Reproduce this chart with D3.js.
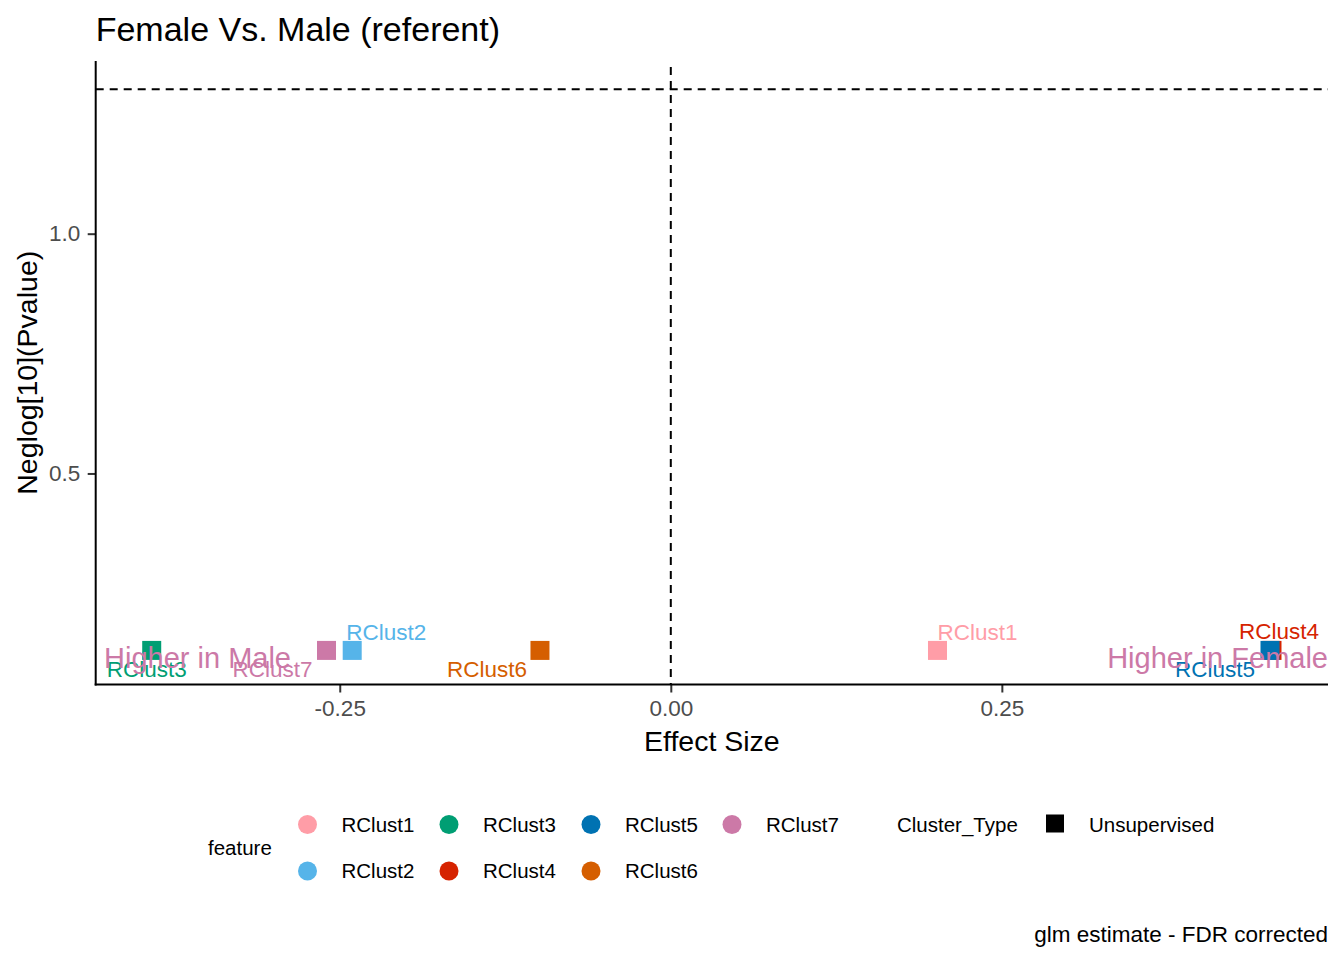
<!DOCTYPE html>
<html>
<head>
<meta charset="utf-8">
<script src="https://cdn.jsdelivr.net/npm/d3@7"></script>
<style>
  body { margin: 0; background: #fff; }
  svg { display: block; font-family: "Liberation Sans", Arial, sans-serif; }
</style>
</head>
<body>
<svg id="chart" width="1344" height="960"></svg>
<script>
// data
const features = ["RClust1", "RClust2", "RClust3", "RClust4", "RClust5", "RClust6", "RClust7"];
const effectSize = [0.2014, -0.2406, -0.3920, 0.4540, 0.4525, -0.0988, -0.2600];
const neglogP = [0.131, 0.131, 0.131, 0.131, 0.131, 0.131, 0.131];
const featureColors = ["#FF9DA7", "#56B4E9", "#009E73", "#D62300", "#0072B2", "#D55E00", "#CC79A7"];
const clusterTypes = ["Unsupervised"];
const xTicks = [-0.25, 0, 0.25];
const yTicks = [0.5, 1.0];
const threshold = -Math.log10(0.05);
const annotations = [
    {text: "Higher in Male", x: -0.428, y: 0.119, anchor: "start"},
    {text: "Higher in Female", x: null, y: 0.119, anchor: "end"}
];
// repel label offsets in px (dx, dy of the text centre from the point)
const labelNudge = [[40, -18], [34, -18], [-5, 19], [7, -19], [-55, 19], [-53, 19], [-54, 19]];

const points = features.map((f, i) => ({
    feature: f, x: effectSize[i], y: neglogP[i], color: featureColors[i], nudge: labelNudge[i]
}));

const svg = d3.select("#chart");
const pLeft = 95.7, pRight = 1328, pTop = 61, pBottom = 684.5;

function expand(ext, m = 0.05) {
    const r = ext[1] - ext[0];
    return [ext[0] - r * m, ext[1] + r * m];
}

const x = d3.scaleLinear()
    .domain(expand(d3.extent(effectSize)))
    .range([pLeft, pRight]);

const yLow = d3.min([...neglogP, ...annotations.map(a => a.y)]);
const y = d3.scaleLinear()
    .domain(expand([yLow, threshold]))
    .range([pBottom, pTop]);

const fmt = f => d => d3.format(f)(d).replace("\u2212", "-");

// axes
const xAxis = svg.append("g")
    .attr("transform", `translate(0,${pBottom})`)
    .call(d3.axisBottom(x).tickValues(xTicks).tickFormat(fmt(".2f")).tickSize(8).tickPadding(4));
const yAxis = svg.append("g")
    .attr("transform", `translate(${pLeft},0)`)
    .call(d3.axisLeft(y).tickValues(yTicks).tickFormat(fmt(".1f")).tickSize(8).tickPadding(4));

[xAxis, yAxis].forEach(a => {
    a.select(".domain").remove();
    a.selectAll(".tick line").attr("stroke", "#333333").attr("stroke-width", 2);
    a.selectAll(".tick text")
        .attr("fill", "#4D4D4D")
        .style("font-size", "22.5px");
});
xAxis.selectAll(".tick text").attr("dy", null).attr("y", 31.5);
yAxis.selectAll(".tick text").attr("x", -15.5);

svg.append("line")
    .attr("x1", pLeft).attr("x2", pLeft)
    .attr("y1", pTop).attr("y2", pBottom + 1)
    .attr("stroke", "#000").attr("stroke-width", 2);
svg.append("line")
    .attr("x1", pLeft - 1).attr("x2", pRight)
    .attr("y1", pBottom).attr("y2", pBottom)
    .attr("stroke", "#000").attr("stroke-width", 2);

// reference lines
svg.append("line")
    .attr("x1", x(0)).attr("x2", x(0))
    .attr("y1", pTop + 6).attr("y2", pBottom)
    .attr("stroke", "#000").attr("stroke-width", 2)
    .attr("stroke-dasharray", "8,6");
svg.append("line")
    .attr("x1", pLeft).attr("x2", pRight)
    .attr("y1", y(threshold)).attr("y2", y(threshold))
    .attr("stroke", "#000").attr("stroke-width", 2)
    .attr("stroke-dasharray", "8,6");

// points
const sq = 19;
svg.append("g")
    .selectAll("rect")
    .data(points)
    .join("rect")
    .attr("x", d => x(d.x) - sq / 2)
    .attr("y", d => y(d.y) - sq / 2)
    .attr("width", sq)
    .attr("height", sq)
    .attr("fill", d => d.color);

// labels
svg.append("g")
    .selectAll("text")
    .data(points)
    .join("text")
    .attr("x", d => x(d.x) + d.nudge[0])
    .attr("y", d => y(d.y) + d.nudge[1])
    .attr("dy", "0.35em")
    .attr("text-anchor", "middle")
    .attr("fill", d => d.color)
    .style("font-size", "22.5px")
    .text(d => d.feature);

// direction annotations
svg.append("g")
    .selectAll("text")
    .data(annotations)
    .join("text")
    .attr("x", d => d.x === null ? x.range()[1] : x(d.x))
    .attr("y", d => y(d.y))
    .attr("dy", "0.42em")
    .attr("text-anchor", d => d.anchor)
    .attr("fill", "#CC79A7")
    .style("font-size", "29px")
    .text(d => d.text);

// titles
svg.append("text")
    .attr("x", pLeft).attr("y", 41)
    .style("font-size", "34px")
    .text("Female Vs. Male (referent)");
svg.append("text")
    .attr("x", (pLeft + pRight) / 2).attr("y", 751)
    .attr("text-anchor", "middle")
    .style("font-size", "28.5px")
    .text("Effect Size");
svg.append("text")
    .attr("transform", `translate(37,${(pTop + pBottom) / 2}) rotate(-90)`)
    .attr("text-anchor", "middle")
    .style("font-size", "28.5px")
    .text("Neglog[10](Pvalue)");
svg.append("text")
    .attr("x", pRight).attr("y", 942)
    .attr("text-anchor", "end")
    .style("font-size", "22.5px")
    .text("glm estimate - FDR corrected");

// legend: feature
const legend = svg.append("g");
const rowY = [824.5, 871];
const colX = [307.5, 449, 591, 732];
legend.append("text")
    .attr("x", 208).attr("y", (rowY[0] + rowY[1]) / 2)
    .attr("dy", "0.35em")
    .style("font-size", "20.5px")
    .text("feature");
const items = legend.selectAll("g.item")
    .data(points)
    .join("g")
    .attr("class", "item")
    .attr("transform", (d, i) => `translate(${colX[Math.floor(i / 2)]},${rowY[i % 2]})`);
items.append("circle").attr("r", 9.5).attr("fill", d => d.color);
items.append("text")
    .attr("x", 34).attr("dy", "0.35em")
    .style("font-size", "20.5px")
    .text(d => d.feature);

// legend: Cluster_Type
legend.append("text")
    .attr("x", 897).attr("y", rowY[0])
    .attr("dy", "0.35em")
    .style("font-size", "20.5px")
    .text("Cluster_Type");
const ct = legend.selectAll("g.ct")
    .data(clusterTypes)
    .join("g")
    .attr("class", "ct")
    .attr("transform", (d, i) => `translate(1055,${rowY[i]})`);
ct.append("rect").attr("x", -9).attr("y", -10).attr("width", 18).attr("height", 18).attr("fill", "#000");
ct.append("text")
    .attr("x", 34).attr("dy", "0.35em")
    .style("font-size", "20.5px")
    .text(d => d);
</script>
</body>
</html>
